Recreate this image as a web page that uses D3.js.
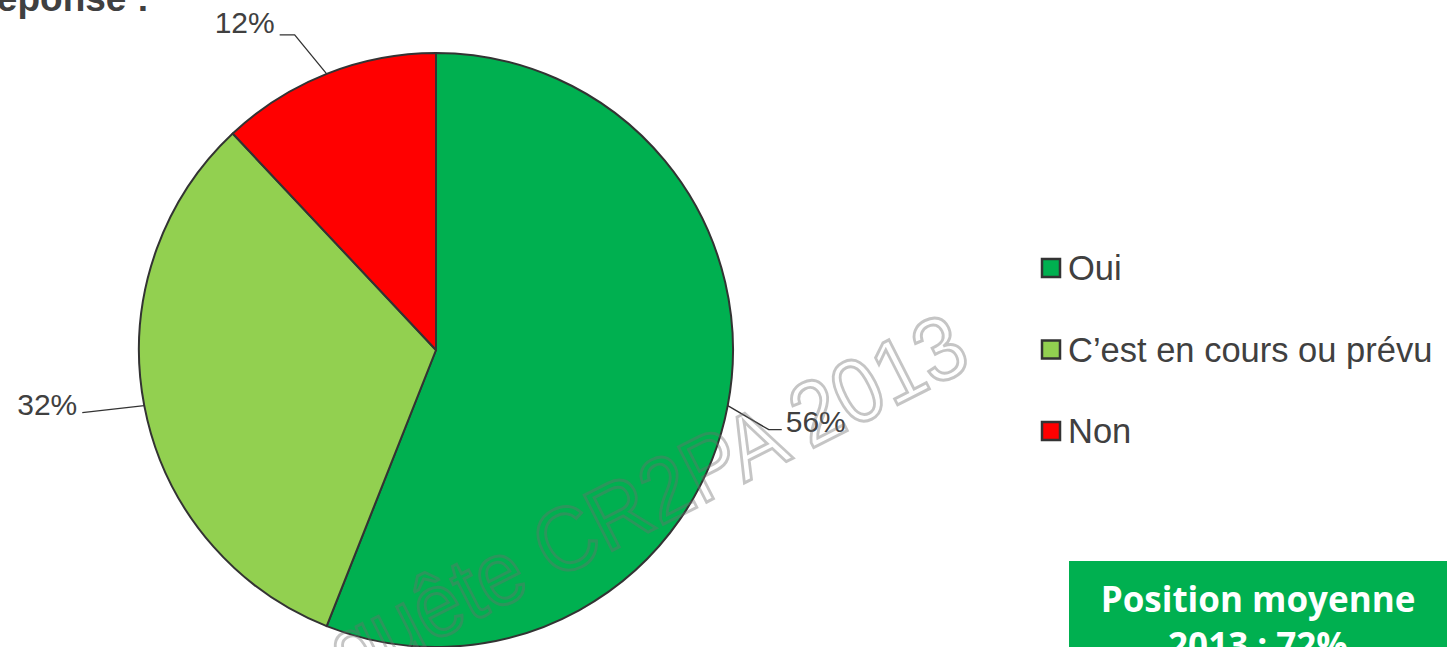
<!DOCTYPE html>
<html>
<head>
<meta charset="UTF-8">
<title>Réponse</title>
<script src="https://cdn.jsdelivr.net/npm/d3@7"></script>
<style>
  body { margin: 0; background: #fff; }
  svg { display: block; font-family: "Liberation Sans", Arial, sans-serif; }
</style>
</head>
<body>
<svg width="1447" height="647"></svg>
<script>
// data
var categories = ["Oui", "C\u2019est en cours ou prévu", "Non"];
var values = [56, 32, 12];
var colors = ["#00B050", "#92D050", "#FF0000"];
var titleText = "Réponse :";
var boxLines = ["Position moyenne", "2013 : 72%"];
var watermark = "Enquête CR2PA 2013";

var svg = d3.select("svg");
var cx = 436, cy = 350, r = 297;

// titre coupé en haut
svg.append("text")
  .attr("x", 149).attr("y", 11)
  .attr("text-anchor", "end")
  .attr("font-size", 37).attr("font-weight", "bold")
  .attr("fill", "#404040")
  .text(titleText);

var pie = d3.pie().sort(null).value(function(d){ return d; });
var arcs = pie(values);
var arc = d3.arc().innerRadius(0).outerRadius(r);

var g = svg.append("g").attr("transform", "translate(" + cx + "," + cy + ")");

g.selectAll("path.slice")
  .data(arcs)
  .enter().append("path")
  .attr("class", "slice")
  .attr("d", arc)
  .attr("fill", function(d, i){ return colors[i]; })
  .attr("stroke", "#333")
  .attr("stroke-width", 2)
  .attr("stroke-linejoin", "round");

// leaders + labels
function edgePoint(d) {
  var a = (d.startAngle + d.endAngle) / 2;
  return [r * Math.sin(a), -r * Math.cos(a)];
}
// elbow offsets per slice (excel-like placement)
var leaderPts = arcs.map(function(d, i){
  var p = edgePoint(d);
  if (i === 0) return [p, [p[0] + 41, p[1] + 24], [p[0] + 54, p[1] + 24]];
  if (i === 1) return [p, [p[0] - 62, p[1] + 7]];
  return [p, [p[0] - 32, p[1] - 39], [p[0] - 47, p[1] - 39]];
});

g.selectAll("path.leader")
  .data(leaderPts)
  .enter().append("path")
  .attr("class", "leader")
  .attr("d", d3.line())
  .attr("fill", "none")
  .attr("stroke", "#333")
  .attr("stroke-width", 1.3);

g.selectAll("text.lbl")
  .data(arcs)
  .enter().append("text")
  .attr("class", "lbl")
  .attr("x", function(d, i){
    var e = leaderPts[i][leaderPts[i].length - 1];
    return i === 0 ? e[0] + 4 : e[0] - 5;
  })
  .attr("y", function(d, i){
    var e = leaderPts[i][leaderPts[i].length - 1];
    return e[1] + (i === 2 ? -2 : 2);
  })
  .attr("text-anchor", function(d, i){ return i === 0 ? "start" : "end"; })
  .attr("font-size", 30)
  .attr("fill", "#404040")
  .text(function(d){ return d.data + "%"; });

// legend
var legend = svg.append("g").attr("transform", "translate(1040,0)");
var ly = d3.scalePoint().domain(categories).range([280, 443]);
var items = legend.selectAll("g")
  .data(categories)
  .enter().append("g")
  .attr("transform", function(d){ return "translate(0," + ly(d) + ")"; });
items.append("rect")
  .attr("x", 2).attr("y", -21)
  .attr("width", 18).attr("height", 18)
  .attr("fill", function(d, i){ return colors[i]; })
  .attr("stroke", "#333")
  .attr("stroke-width", 2.5);
items.append("text")
  .attr("x", 28).attr("y", 0)
  .attr("font-size", 34.5)
  .attr("fill", "#404040")
  .text(function(d){ return d; });

// watermark
svg.append("text")
  .attr("transform", "translate(974,366) rotate(-27) scale(0.92,1)")
  .attr("text-anchor", "end")
  .attr("font-size", 90)
  .attr("fill", "none")
  .attr("stroke", "rgba(110,110,110,0.4)")
  .attr("stroke-width", 3)
  .text(watermark);

// green box
var box = svg.append("g").attr("transform", "translate(1069,561)");
box.append("rect")
  .attr("width", 380).attr("height", 120)
  .attr("fill", "#00B050");
box.selectAll("text")
  .data(boxLines)
  .enter().append("text")
  .attr("x", 189)
  .attr("y", function(d, i){ return 51 + i * 46; })
  .attr("text-anchor", "middle")
  .attr("font-family", "'Open Sans', sans-serif")
  .attr("font-weight", "bold")
  .attr("font-size", 35)
  .attr("fill", "#fff")
  .text(function(d){ return d; });
</script>
</body>
</html>
